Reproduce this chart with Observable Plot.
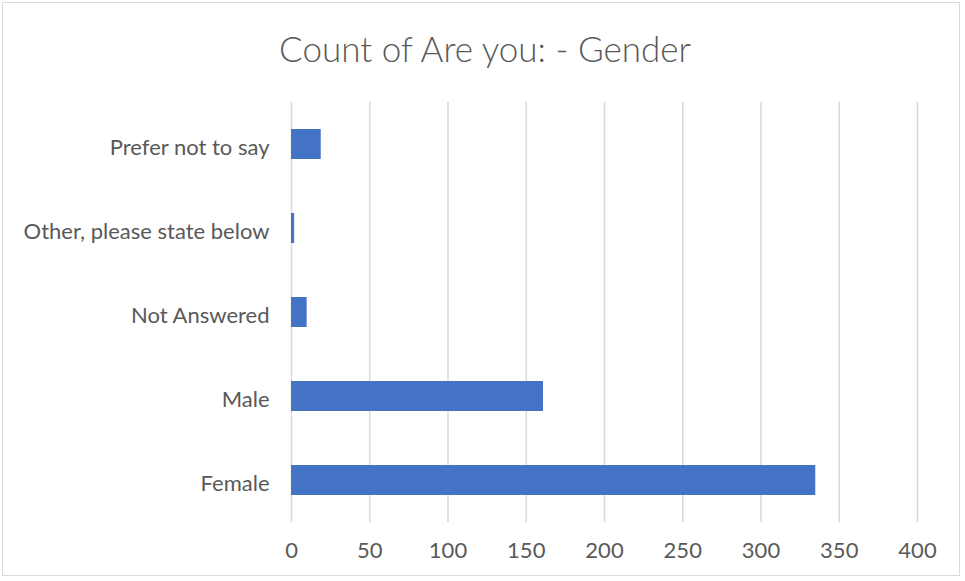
<!DOCTYPE html>
<html>
<head>
<meta charset="utf-8">
<script src="https://cdn.jsdelivr.net/npm/d3@7"></script>
<script src="https://cdn.jsdelivr.net/npm/@observablehq/plot@0.6"></script>
<style>
  html, body { margin: 0; padding: 0; background: #fff; }
  #wrap { position: relative; width: 965px; height: 581px; overflow: hidden; font-family: Lato, "Open Sans", sans-serif; }
  #frame { position: absolute; left: 2px; top: 2px; width: 958px; height: 574px; border: 1px solid #d9d9d9; box-sizing: border-box; }
  #title { position: absolute; left: 0; top: 26px; width: 970px; text-align: center; font-size: 35px; font-weight: 300; color: #595959; line-height: 44px; }
  #chart { position: absolute; left: 0; top: 95px; }
</style>
</head>
<body>
<div id="wrap">
  <div id="frame"></div>
  <div id="title">Count of Are you: - Gender</div>
  <div id="chart"></div>
</div>
<script>
const categories = ["Prefer not to say", "Other, please state below", "Not Answered", "Male", "Female"];
const counts = [19, 2, 10, 161, 335];
const xTicks = [0, 50, 100, 150, 200, 250, 300, 350, 400];

const data = categories.map((c, i) => ({category: c, count: counts[i]}));

const plot = Plot.plot({
  width: 965,
  height: 486,
  marginLeft: 291,
  marginRight: 48,
  marginTop: 7,
  marginBottom: 59,
  style: {fontFamily: "Lato, 'Open Sans', sans-serif", fontSize: "22px", color: "#595959", background: "transparent"},
  x: {domain: [0, 400], ticks: xTicks, label: null},
  y: {domain: categories, padding: 0, label: null},
  marks: [
    Plot.ruleX(xTicks, {stroke: "#d9d9d9", strokeWidth: 1.5, strokeOpacity: 1}),
    Plot.barX(data, {x: "count", y: "category", fill: "#4472C4", insetTop: 27, insetBottom: 27}),
    Plot.axisX({ticks: xTicks, tickSize: 0, tickPadding: 20, fontSize: 22, label: null, fill: "#595959"}),
    Plot.axisY({tickSize: 0, tickPadding: 22, fontSize: 22, dy: 3, label: null, fill: "#595959"})
  ]
});
document.getElementById("chart").appendChild(plot);
</script>
</body>
</html>
